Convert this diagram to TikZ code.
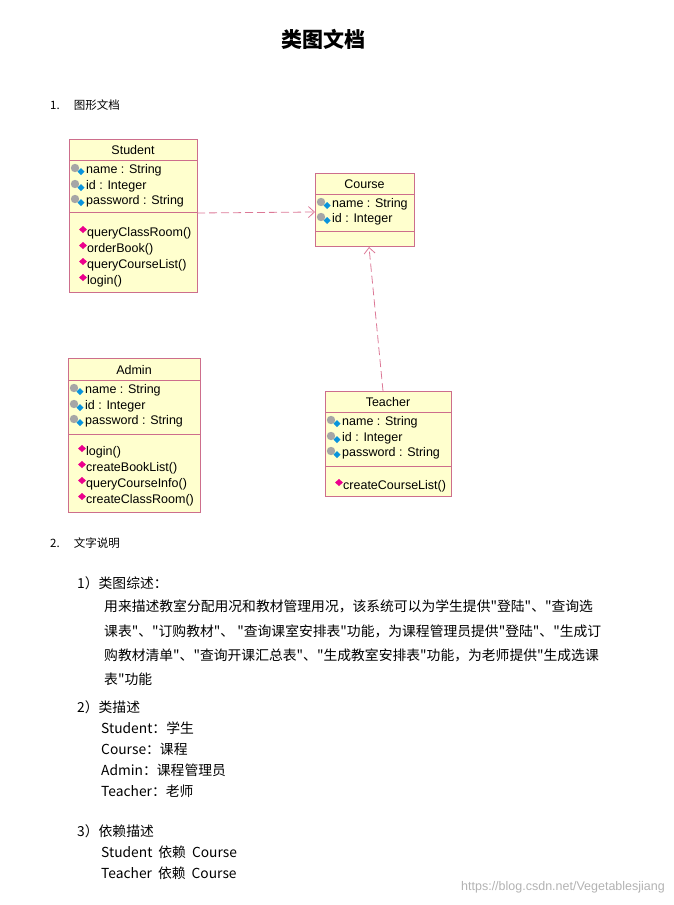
\documentclass[tikz,border=0pt]{standalone}
\usepackage{fontspec}
\setmainfont{Liberation Sans}
\newfontfamily\cjk{Noto Sans CJK SC}
\usetikzlibrary{arrows.meta,positioning}

\definecolor{umlfill}{RGB}{255,255,206}
\definecolor{umlline}{RGB}{205,110,140}
\definecolor{dep}{RGB}{220,120,150}

\tikzset{
    classbox/.style={rectangle, draw=umlline, fill=umlfill, anchor=north west, inner sep=0pt},
    umltext/.style={anchor=west, inner sep=0pt, font=\fontsize{12.5}{14}\selectfont},
    bodytext/.style={anchor=west, inner sep=0pt, font=\cjk\fontsize{13.8}{16}\selectfont},
    depend/.style={draw=dep, line width=0.8pt, dash pattern=on 8pt off 4pt, -{Straight Barb[length=6pt,width=11pt]}}
}

% attribute and method icons
\newcommand{\attricon}[1]{%
    \fill[gray!70] (#1) ++(-4,-2) circle (4.2);
    \fill[cyan!80!blue] (#1) ++(2,-2) -- ++(3.5,3.5) -- ++(-3.5,3.5) -- ++(-3.5,-3.5) -- cycle;}
\newcommand{\opicon}[1]{%
    \fill[magenta] (#1) ++(0,-7) -- ++(4,3.5) -- ++(-4,3.5) -- ++(-4,-3.5) -- cycle;}

\begin{document}
\begin{tikzpicture}[x=1pt, y=-1pt]
    \useasboundingbox (0,0) rectangle (673,905);

    \node[font=\cjk\bfseries\fontsize{21}{24}\selectfont] (title) at (323,39) {类图文档};
    \node[bodytext, font=\cjk\fontsize{11.5}{13}\selectfont] (sec1) at (50,105) {1.\hspace{14pt}图形文档};

    % Student
    \node[classbox, minimum width=128, minimum height=153] (student) at (69,139) {};
    \draw[umlline] (69,160) -- (197,160) (69,212) -- (197,212);
    \node[anchor=center, font=\fontsize{12.5}{14}\selectfont] at (133,150) {Student};
    \foreach \y/\t in {170/name : String, 186/id : Integer, 201/password : String}
        {\attricon{79,\y} \node[umltext] at (86,\y) {\t};}
    \foreach \y/\t in {233/queryClassRoom(), 249/orderBook(), 265/queryCourseList(), 281/login()}
        {\opicon{83,\y} \node[umltext] at (87,\y) {\t};}

    % Course
    \node[classbox, minimum width=99, minimum height=73] (course) at (315,173) {};
    \draw[umlline] (315,194) -- (414,194) (315,231) -- (414,231);
    \node[anchor=center, font=\fontsize{12.5}{14}\selectfont] at (364.5,184) {Course};
    \foreach \y/\t in {204/name : String, 219/id : Integer}
        {\attricon{325,\y} \node[umltext] at (332,\y) {\t};}

    % Admin
    \node[classbox, minimum width=132, minimum height=154] (admin) at (68,358) {};
    \draw[umlline] (68,380) -- (200,380) (68,434) -- (200,434);
    \node[anchor=center, font=\fontsize{12.5}{14}\selectfont] at (134,370) {Admin};
    \foreach \y/\t in {390/name : String, 406/id : Integer, 421/password : String}
        {\attricon{78,\y} \node[umltext] at (85,\y) {\t};}
    \foreach \y/\t in {452/login(), 468/createBookList(), 484/queryCourseInfo(), 500/createClassRoom()}
        {\opicon{82,\y} \node[umltext] at (86,\y) {\t};}

    % Teacher
    \node[classbox, minimum width=126, minimum height=105] (teacher) at (325,391) {};
    \draw[umlline] (325,412) -- (451,412) (325,466) -- (451,466);
    \node[anchor=center, font=\fontsize{12.5}{14}\selectfont] at (388,402) {Teacher};
    \foreach \y/\t in {422/name : String, 438/id : Integer, 453/password : String}
        {\attricon{335,\y} \node[umltext] at (342,\y) {\t};}
    \foreach \y/\t in {486/createCourseList()}
        {\opicon{339,\y} \node[umltext] at (343,\y) {\t};}

    % dependencies
    \coordinate (s-out) at (197,213);
    \coordinate (c-in) at (315,212);
    \coordinate (t-out) at (383,391);
    \coordinate (c-bot) at (369,247);
    \draw[depend] (s-out) -- (c-in);
    \draw[depend] (t-out) -- (c-bot);

    % text section
    \node[bodytext, font=\cjk\fontsize{11.5}{13}\selectfont] (sec2) at (50,543) {2.\hspace{14pt}文字说明};
    \node[bodytext] (p1) at (77,583) {1）类图综述：};
    \node[bodytext] (l1) at (104,606) {用来描述教室分配用况和教材管理用况，该系统可以为学生提供"登陆"、"查询选};
    \node[bodytext] (l2) at (104,631) {课表"、"订购教材"、 "查询课室安排表"功能，为课程管理员提供"登陆"、"生成订};
    \node[bodytext] (l3) at (104,655) {购教材清单"、"查询开课汇总表"、"生成教室安排表"功能，为老师提供"生成选课};
    \node[bodytext] (l4) at (104,679) {表"功能};

    \node[bodytext] (p2) at (77,707) {2）类描述};
    \foreach \y/\t in {728/Student：学生, 749/Course：课程, 770/Admin：课程管理员, 791/Teacher：老师}
        \node[bodytext] at (101,\y) {\t};

    \node[bodytext] (p3) at (77,831) {3）依赖描述};
    \node[bodytext] (d1) at (101,852) {Student\hspace{6pt}依赖\hspace{6pt}Course};
    \node[bodytext] (d2) at (101,873) {Teacher\hspace{6pt}依赖\hspace{6pt}Course};

    \node[anchor=east, inner sep=0pt, text=gray!60, font=\fontsize{12.5}{14}\selectfont] (mark) at (665,887) {https://blog.csdn.net/Vegetablesjiang};
\end{tikzpicture}
\end{document}
